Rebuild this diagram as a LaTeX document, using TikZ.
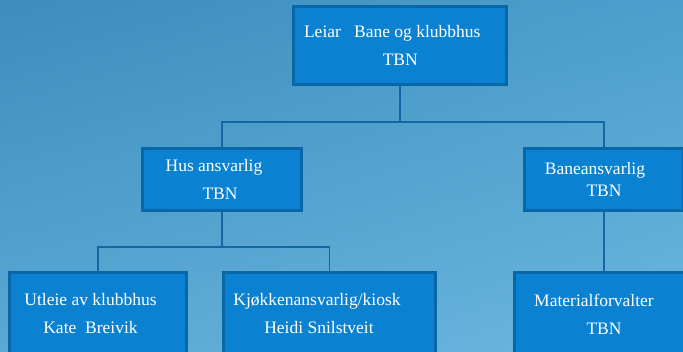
\documentclass[tikz,border=0pt]{standalone}
\usepackage{fontspec}
\setmainfont{Liberation Serif}
\usetikzlibrary{shadings}
\definecolor{bgtl}{HTML}{3D8CBC}
\definecolor{bgtr}{HTML}{4C9FCC}
\definecolor{bgbl}{HTML}{5AA9D4}
\definecolor{bgbr}{HTML}{6AB7DD}
\definecolor{boxfill}{HTML}{0B81D2}
\definecolor{boxline}{HTML}{0866A9}
\definecolor{linkblue}{HTML}{1466A4}
\begin{document}
\begin{tikzpicture}[x=1pt, y=-1pt,
  main/.style = {draw=boxline, fill=boxfill, line width=3pt, text=white, align=center, inner sep=0pt, font=\fontsize{17.5}{28}\selectfont},
  link/.style = {draw=linkblue, line width=1.6pt}]
\useasboundingbox (0,0) rectangle (683,351);
\clip (0,0) rectangle (683,351);
\shade[upper left=bgtl, upper right=bgtr, lower left=bgbl, lower right=bgbr] (0,0) rectangle (683,351);

\node[main, minimum width=213pt, minimum height=78pt] (1) at (400.25,45.5) {Leiar\ \ \ Bane og klubbhus\hspace*{16pt}\\TBN};
\node[main, minimum width=159pt, minimum height=62pt] (2) at (222,179.5) {Hus ansvarlig\hspace*{16pt}\\TBN\hspace*{4pt}};
\node[main, minimum width=159pt, minimum height=62pt] (3) at (604,179.5) {Baneansvarlig\hspace*{18pt}\\[-6pt]TBN};
\node[main, minimum width=177pt, minimum height=84pt] (4) at (98,314) {Utleie av klubbhus\hspace*{15pt}\\Kate\ \ Breivik\hspace*{15pt}};
\node[main, minimum width=212pt, minimum height=84pt] (5) at (329.5,314) {Kjøkkenansvarlig/kiosk\hspace*{25pt}\\Heidi Snilstveit\hspace*{21pt}};
\node[main, minimum width=179pt, minimum height=84pt] (6) at (604,314) {Materialforvalter\hspace*{20pt}\\TBN};

\draw[link] (1.south) -- ++(0,36) coordinate (j1);
\draw[link] (2.north) |- (j1) -| (3.north);
\draw[link] (2.south) -- ++(0,35) coordinate (j2);
\draw[link] (4.north) |- (j2) -| (5.north);
\draw[link] (3.south) -- (6.north);
\end{tikzpicture}
\end{document}
